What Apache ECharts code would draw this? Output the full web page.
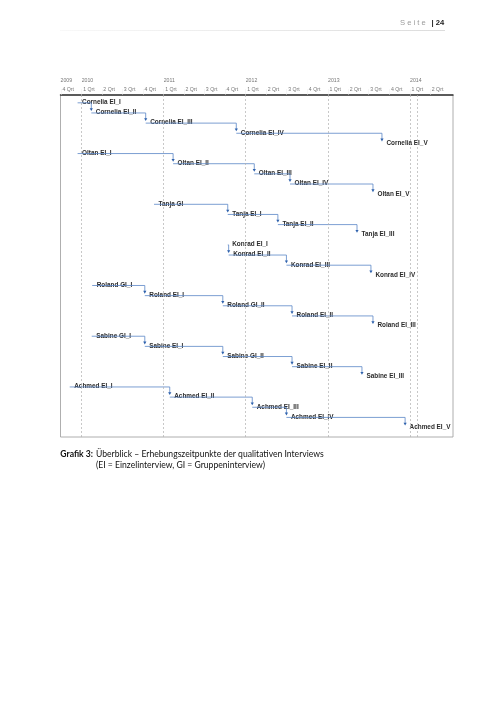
<!DOCTYPE html>
<html lang="de">
<head>
  <meta charset="utf-8">
</head>
<body style="margin: 0; background: #fff">
  <div id="container" style="width: 504px; height: 712px"></div>
  <script src="https://cdn.jsdelivr.net/npm/echarts@6/dist/echarts.min.js"></script>
  <script>
    // Interviews, eine Zeile pro Termin, gruppiert nach Person
    const taskNames = [
      'Cornelia EI_I', 'Cornelia EI_II', 'Cornelia EI_III', 'Cornelia EI_IV', 'Cornelia EI_V',
      'Oltan EI_I', 'Oltan EI_II', 'Oltan EI_III', 'Oltan EI_IV', 'Oltan EI_V',
      'Tanja GI', 'Tanja EI_I', 'Tanja EI_II', 'Tanja EI_III',
      'Konrad EI_I', 'Konrad EI_II', 'Konrad EI_III', 'Konrad EI_IV',
      'Roland GI_I', 'Roland EI_I', 'Roland GI_II', 'Roland EI_II', 'Roland EI_III',
      'Sabine GI_I', 'Sabine EI_I', 'Sabine GI_II', 'Sabine EI_II', 'Sabine EI_III',
      'Achmed EI_I', 'Achmed EI_II', 'Achmed EI_III', 'Achmed EI_IV', 'Achmed EI_V'
    ];
    const taskDates = [
      '2009-12-14', '2010-02-13', '2010-10-13', '2011-11-20', '2013-08-29',
      '2009-12-14', '2011-02-12', '2012-02-08', '2012-07-16', '2013-07-20',
      '2010-11-19', '2011-10-13', '2012-05-23', '2013-05-10',
      '2011-10-13', '2011-10-17', '2012-06-30', '2013-07-11',
      '2010-02-17', '2010-10-09', '2011-09-21', '2012-07-25', '2013-07-20',
      '2010-02-15', '2010-10-09', '2011-09-21', '2012-07-25', '2013-06-01',
      '2009-11-09', '2011-01-28', '2012-01-30', '2012-06-30', '2013-12-10'
    ];
    const groupSizes = [5, 5, 4, 4, 5, 5, 5];

    // Zeitskala
    const axisStart = '2009-09-29';
    const axisEnd = '2014-07-11';
    const yearStarts = ['2010-01-01', '2011-01-01', '2012-01-01', '2013-01-01', '2014-01-01'];
    const statusDate = '2014-02-01';
    const quarterStarts = [
      '2009-10-01',
      '2010-01-01', '2010-04-01', '2010-07-01', '2010-10-01',
      '2011-01-01', '2011-04-01', '2011-07-01', '2011-10-01',
      '2012-01-01', '2012-04-01', '2012-07-01', '2012-10-01',
      '2013-01-01', '2013-04-01', '2013-07-01', '2013-10-01',
      '2014-01-01', '2014-04-01'
    ];
    const quarterLabels = [
      '4 Qrt',
      '1 Qrt', '2 Qrt', '3 Qrt', '4 Qrt',
      '1 Qrt', '2 Qrt', '3 Qrt', '4 Qrt',
      '1 Qrt', '2 Qrt', '3 Qrt', '4 Qrt',
      '1 Qrt', '2 Qrt', '3 Qrt', '4 Qrt',
      '1 Qrt', '2 Qrt'
    ];

    function ts (s) {
      return new Date(s + 'T00:00:00Z').getTime();
    }

    // letzte Zeile jeder Person hat keinen Nachfolger
    const lastRows = {};
    let acc = 0;
    groupSizes.forEach(function (n) {
      acc += n;
      lastRows[acc - 1] = true;
    });

    const taskData = taskDates.map(function (d, i) {
      const hasNext = lastRows[i] ? 0 : 1;
      const next = hasNext ? taskDates[i + 1] : d;
      return [ts(d), i, ts(next), hasNext];
    });

    const quarterTs = quarterStarts.map(ts);
    const quarterText = {};
    quarterTs.forEach(function (t, i) {
      quarterText[t] = quarterLabels[i];
    });
    const yearTs = [ts(axisStart)].concat(yearStarts.map(ts));

    const lineBlue = '#5a87c6';
    const arrowBlue = '#2f62ad';

    function renderTask (params, api) {
      const row = api.value(1);
      const p = api.coord([api.value(0), row]);
      const children = [{
        type: 'text',
        style: {
          text: taskNames[params.dataIndex],
          x: p[0] + 4.5,
          y: p[1] - 0.4,
          verticalAlign: 'middle',
          align: 'left',
          font: 'bold 6.4px "Liberation Sans", Arial, sans-serif',
          fill: '#2b2b2b'
        }
      }];
      if (api.value(3)) {
        const q = api.coord([api.value(2), row + 1]);
        const tipY = q[1] - 2;
        children.push({
          type: 'polyline',
          shape: { points: [[p[0], p[1]], [q[0], p[1]], [q[0], tipY - 2]] },
          style: { stroke: lineBlue, lineWidth: 0.8, fill: null }
        });
        children.push({
          type: 'polygon',
          shape: { points: [[q[0] - 1.6, tipY - 2.8], [q[0] + 1.6, tipY - 2.8], [q[0], tipY]] },
          style: { fill: arrowBlue }
        });
      }
      return { type: 'group', children: children };
    }

    const dom = document.getElementById('container');
    const myChart = echarts.init(dom, null, { renderer: 'canvas' });

    const headerFont = '"Liberation Sans", Arial, sans-serif';

    const option = {
      backgroundColor: '#fff',
      animation: false,
      grid: {
        left: 60.5,
        right: 51,
        top: 95,
        bottom: 275,
        show: true,
        borderColor: '#9a9a9a',
        borderWidth: 0.8
      },
      xAxis: [
        {
          type: 'value',
          position: 'top',
          min: ts(axisStart),
          max: ts(axisEnd),
          axisLine: { show: true, onZero: false, lineStyle: { color: '#333', width: 1.5 } },
          axisTick: {
            show: true,
            customValues: quarterTs,
            length: 6,
            lineStyle: { color: '#ececec', width: 0.5 }
          },
          axisLabel: {
            customValues: quarterTs,
            formatter: function (v) {
              return quarterText[v] || '';
            },
            align: 'left',
            padding: [0, 0, 0, 1.5],
            margin: 3,
            fontSize: 5.2,
            fontFamily: headerFont,
            color: '#777'
          },
          splitLine: { show: false }
        },
        {
          type: 'value',
          position: 'top',
          offset: 9,
          min: ts(axisStart),
          max: ts(axisEnd),
          axisLine: { show: false },
          axisTick: { show: false },
          axisLabel: {
            customValues: yearTs,
            formatter: function (v) {
              return String(new Date(v).getUTCFullYear());
            },
            align: 'left',
            margin: 3,
            fontSize: 5.2,
            fontFamily: headerFont,
            color: '#777'
          },
          splitLine: { show: false }
        }
      ],
      yAxis: {
        type: 'value',
        inverse: true,
        min: -0.77,
        max: 32.93,
        show: false
      },
      series: [
        {
          type: 'line',
          data: [],
          silent: true,
          markLine: {
            silent: true,
            symbol: ['none', 'none'],
            label: { show: false },
            lineStyle: { type: [2, 2], color: '#b0b0b0', width: 0.7 },
            data: yearStarts.concat([statusDate]).map(function (d) {
              return { xAxis: ts(d) };
            })
          }
        },
        {
          type: 'custom',
          renderItem: renderTask,
          encode: { x: 0, y: 1 },
          clip: false,
          silent: true,
          data: taskData
        }
      ],
      graphic: {
        elements: [
          {
            type: 'text',
            left: 400,
            top: 19,
            style: { text: 'S e i t e', font: '7.6px "Liberation Sans", Arial, sans-serif', fill: '#9a9a9a' }
          },
          {
            type: 'text',
            left: 431.5,
            top: 18.5,
            style: { text: '| 24', font: 'bold 7.6px "Liberation Sans", Arial, sans-serif', fill: '#222' }
          },
          {
            type: 'line',
            shape: { x1: 60, y1: 30.5, x2: 445, y2: 30.5 },
            style: {
              lineWidth: 0.6,
              stroke: new echarts.graphic.LinearGradient(0, 0, 1, 0, [
                { offset: 0, color: '#f4f4f4' },
                { offset: 1, color: '#c4c4c4' }
              ])
            }
          },
          {
            type: 'text',
            x: 93,
            y: 450,
            style: { text: 'Grafik 3:', align: 'right', font: 'bold 8.6px Lato, sans-serif', fill: '#111' }
          },
          {
            type: 'text',
            left: 96,
            top: 450,
            style: { text: 'Überblick – Erhebungszeitpunkte der qualitativen Interviews', font: '8.6px Lato, sans-serif', fill: '#111' }
          },
          {
            type: 'text',
            left: 96,
            top: 461,
            style: { text: '(EI = Einzelinterview, GI = Gruppeninterview)', font: '8.6px Lato, sans-serif', fill: '#111' }
          }
        ]
      }
    };

    myChart.setOption(option);
    window.addEventListener('resize', myChart.resize);
  </script>
</body>
</html>
